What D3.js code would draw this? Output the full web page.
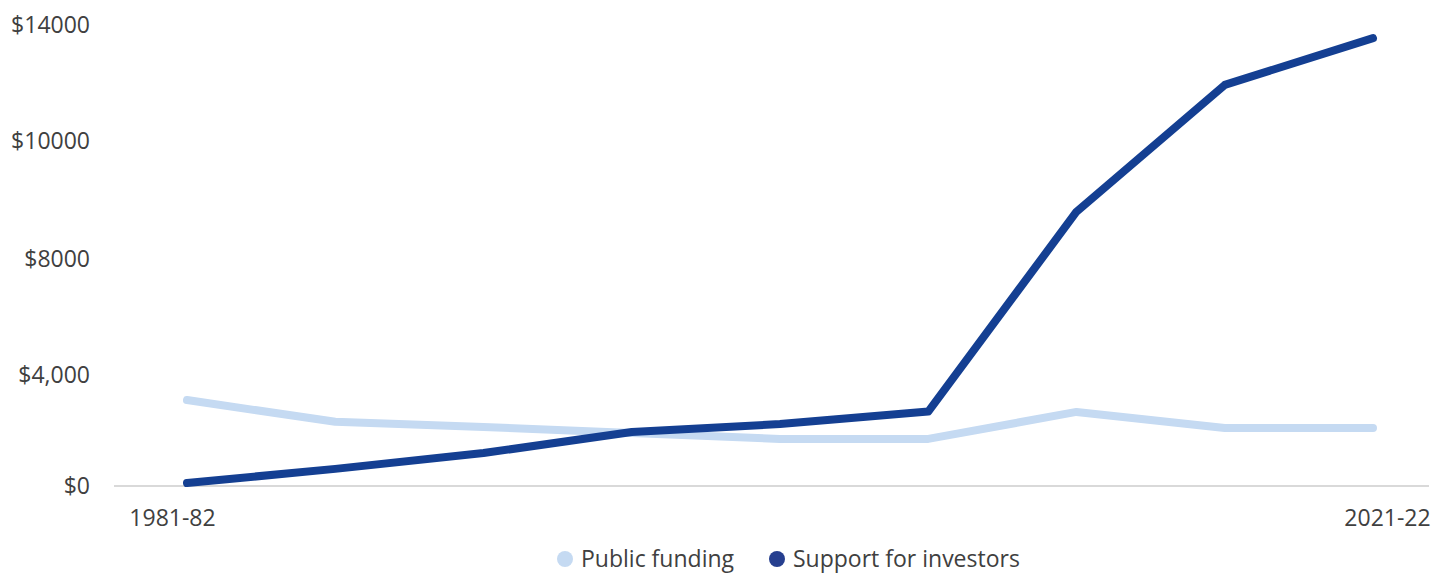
<!DOCTYPE html>
<html>
<head>
<meta charset="utf-8">
<script src="https://cdn.jsdelivr.net/npm/d3@7"></script>
<style>
  body { margin: 0; background: #fff; }
  svg text { font-family: "Open Sans", sans-serif; fill: #404040; }
</style>
</head>
<body>
<div id="chart"></div>
<script>
var WIDTH = 1433;
var HEIGHT = 575;

var YEARS = ["1981-82", "1986-87", "1991-92", "1996-97", "2001-02", "2006-07", "2011-12", "2016-17", "2021-22"];
var PUBLIC_FUNDING = [2610, 1950, 1790, 1610, 1430, 1430, 2250, 1760, 1760];
var SUPPORT_INVESTORS = [90, 520, 1000, 1640, 1880, 2260, 8330, 12180, 13600];
var Y_TICKS = [0, 3370, 6890, 10480, 14000];
var Y_LABELS = ["$0", "$4,000", "$8000", "$10000", "$14000"];
var X_LABELS = ["1981-82", "2021-22"];
var SERIES_NAMES = ["Public funding", "Support for investors"];
var colors = ["#c5daf2", "#143f92"];
var legendColors = ["#c5daf2", "#263f8f"];

var svg = d3.select("#chart").append("svg")
  .attr("width", WIDTH)
  .attr("height", HEIGHT);

var x = d3.scalePoint().domain(YEARS).range([187, 1373]);
var y = d3.scaleLinear().domain([0, 14000]).range([486, 25]);

// baseline
svg.append("line")
  .attr("x1", 114).attr("x2", 1429)
  .attr("y1", y(0)).attr("y2", y(0))
  .attr("stroke", "#d9d9d9")
  .attr("stroke-width", 2);

// y axis labels
var yAxis = d3.axisLeft(y)
  .tickValues(Y_TICKS)
  .tickFormat(function(d, i) { return Y_LABELS[i]; })
  .tickSize(0)
  .tickPadding(0);

var gy = svg.append("g")
  .attr("transform", "translate(90,0)")
  .call(yAxis);
gy.select(".domain").remove();
gy.selectAll("text")
  .style("font-size", "23px")
  .attr("font-family", null);

// x axis labels (only the ends)
var xAxis = d3.axisBottom(x)
  .tickValues(X_LABELS)
  .tickSize(0)
  .tickPadding(0);

var gx = svg.append("g")
  .attr("transform", "translate(0," + 510 + ")")
  .call(xAxis);
gx.select(".domain").remove();
gx.selectAll("text")
  .style("font-size", "23px")
  .attr("font-family", null)
  .attr("dx", function(d, i) { return i === 0 ? -15 : 14; });

var line = d3.line()
  .x(function(d, i) { return x(YEARS[i]); })
  .y(function(d) { return y(d); });

[PUBLIC_FUNDING, SUPPORT_INVESTORS].forEach(function(series, k) {
  svg.append("path")
    .datum(series)
    .attr("d", line)
    .attr("fill", "none")
    .attr("stroke", colors[k])
    .attr("stroke-width", 8)
    .attr("stroke-linejoin", "round")
    .attr("stroke-linecap", "round");
});

// legend
var legendX = [565, 777];
var legend = svg.append("g").selectAll("g")
  .data(SERIES_NAMES)
  .enter()
  .append("g")
  .attr("transform", function(d, i) { return "translate(" + legendX[i] + ",559)"; });

legend.append("circle")
  .attr("r", 8)
  .attr("fill", function(d, i) { return legendColors[i]; });

legend.append("text")
  .attr("x", 16)
  .attr("dy", "0.35em")
  .style("font-size", "23px")
  .text(function(d) { return d; });
</script>
</body>
</html>
